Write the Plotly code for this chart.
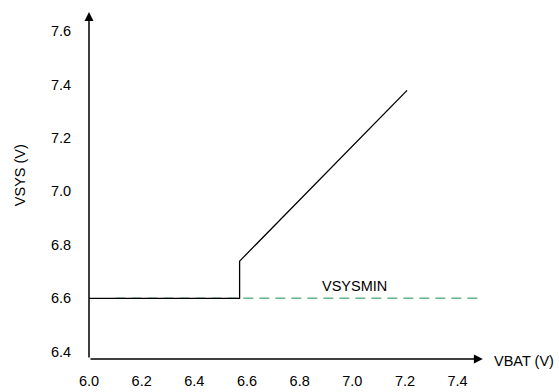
import plotly.graph_objects as go

# Data
vbat_curve = [6.0, 6.572, 6.572, 7.208]
vsys_curve = [6.6, 6.6, 6.739, 7.378]
vsysmin_x = [6.1, 7.49]
vsysmin_y = [6.6, 6.6]
x_ticks = [6.0, 6.2, 6.4, 6.6, 6.8, 7.0, 7.2, 7.4]
y_ticks = [6.4, 6.6, 6.8, 7.0, 7.2, 7.4, 7.6]

FONT = "Liberation Sans, Arial, sans-serif"
fs = 14.5

L, R, T, B = 88.7, 69, 0, 32.7
W, H = 559, 392
pw = W - L - R
ph = H - T - B

def px_x(px):
    return (px - L) / pw

def px_y(py):
    return (H - B - py) / ph

fig = go.Figure()
fig.add_trace(go.Scatter(x=vsysmin_x, y=vsysmin_y, mode="lines",
                         line=dict(color="#67b38f", width=1.5, dash="10px,6px"),
                         hoverinfo="skip", showlegend=False))
fig.add_trace(go.Scatter(x=vbat_curve, y=vsys_curve, mode="lines",
                         line=dict(color="black", width=1.3),
                         hoverinfo="skip", showlegend=False))

x_axis_y = 6.373
y_axis_x = 6.0
x_end = 7.496
y_end = 7.671

# axis arrows
fig.add_annotation(x=x_end, y=x_axis_y, ax=y_axis_x, ay=x_axis_y, xref="x", yref="y",
                   axref="x", ayref="y", text="", showarrow=True, arrowhead=2,
                   arrowsize=1.2, arrowwidth=1.5, arrowcolor="black")
fig.add_annotation(x=y_axis_x, y=y_end, ax=y_axis_x, ay=x_axis_y, xref="x", yref="y",
                   axref="x", ayref="y", text="", showarrow=True, arrowhead=2,
                   arrowsize=1.2, arrowwidth=1.5, arrowcolor="black")

fig.add_annotation(x=7.01, y=6.646, text="VSYSMIN", showarrow=False,
                   font=dict(family=FONT, size=fs, color="black"))
fig.add_annotation(x=px_x(524), y=px_y(361.7), xref="paper", yref="paper", text="VBAT (V)",
                   showarrow=False, xanchor="center", yanchor="middle",
                   font=dict(family=FONT, size=fs, color="black"))
fig.add_annotation(x=px_x(20), y=px_y(175), xref="paper", yref="paper", text="VSYS (V)",
                   showarrow=False, textangle=-90, xanchor="center", yanchor="middle",
                   font=dict(family=FONT, size=fs, color="black"))

fig.update_layout(
    width=W, height=H,
    margin=dict(l=L, r=R, t=T, b=B),
    paper_bgcolor="white", plot_bgcolor="white",
    showlegend=False,
    font=dict(family=FONT, size=fs, color="black"),
    xaxis=dict(range=[6.0, 7.523], tickvals=x_ticks, tickformat=".1f",
               showgrid=False, zeroline=False, showline=False,
               ticks="outside", ticklen=9, tickcolor="rgba(0,0,0,0)"),
    yaxis=dict(range=[6.373, 7.716], tickvals=y_ticks, tickformat=".1f",
               showgrid=False, zeroline=False, showline=False,
               ticks="outside", ticklen=14, tickcolor="rgba(0,0,0,0)"),
)
fig.write_html("out.html")
